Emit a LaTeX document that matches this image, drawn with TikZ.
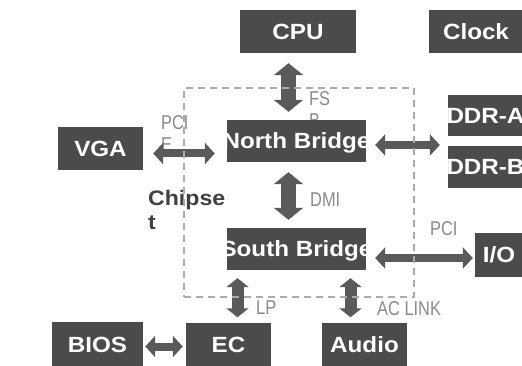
\documentclass[tikz,border=0pt]{standalone}
\usepackage{fontspec}
\setmainfont{Liberation Sans}
\newfontfamily\boxfont[FakeStretch=1.1]{Liberation Sans}
\newfontfamily\lblfont[FakeStretch=0.82]{Liberation Sans}
\usetikzlibrary{arrows.meta,positioning,calc}
\definecolor{boxgray}{HTML}{4B4B4B}
\definecolor{arrgray}{HTML}{5A5A5A}
\definecolor{lblgray}{HTML}{8A8A8A}
\definecolor{dashgray}{HTML}{ABABAB}
\tikzset{
  block/.style={fill=boxgray,text=white,inner sep=0pt,minimum height=43pt,
    font=\boxfont\bfseries\fontsize{22}{24}\selectfont,text height=15.5pt,text depth=0pt},
  busname/.style={text=lblgray,inner sep=0pt,align=left,
    font=\lblfont\fontsize{20}{22}\selectfont},
  hbus/.style={draw=arrgray,line width=8pt,
    {Triangle[width=21pt,length=10pt]}-{Triangle[width=21pt,length=10pt]}},
  vbus/.style={draw=arrgray,line width=15pt,
    {Triangle[width=29pt,length=12pt]}-{Triangle[width=29pt,length=12pt]}},
  lowbus/.style={draw=arrgray,line width=12pt,shorten <=8pt,shorten >=5pt,
    {Triangle[width=22pt,length=9pt]}-{Triangle[width=22pt,length=9pt]}}
}

\begin{document}
\begin{tikzpicture}[x=1pt,y=-1pt,
  chipframe/.style={draw=dashgray,line width=1.3pt,dash pattern=on 7pt off 5pt,
    inner sep=0pt},
  chiplabel/.style={text=black!75,inner sep=0pt,align=left,
    font=\boxfont\bfseries\fontsize{21}{24}\selectfont}
]
  \useasboundingbox (0,0) rectangle (522,366);
  \node[busname,anchor=north west] (fsb) at (309,91) {FS\\B};
  \node[busname,anchor=north west] (pcie) at (161,115) {PCI\\E};
  \node[busname,anchor=west] (dmi) at (310,200) {DMI};
  \node[busname,anchor=north west] (pci) at (430,221) {PCI};
  \node[busname,anchor=north west] (lpc) at (256,301) {LP};
  \node[busname,anchor=north west] (aclink) at (377,301) {AC LINK};
  \node[chiplabel,anchor=north west] (chip) at (148,190) {Chipse\\t};
  \node[block,minimum width=116pt] (cpu) at (298,31.5) {\makebox[0pt]{CPU}};
  \node[block,minimum width=94pt] (clock) at (476,31.5) {\makebox[0pt]{Clock}};
  \node[block,minimum width=75pt,minimum height=41pt] (ddra) at (485.5,115.5) {\makebox[0pt]{DDR-A}};
  \node[block,minimum width=75pt,minimum height=42pt] (ddrb) at (485.5,167) {\makebox[0pt]{DDR-B}};
  \node[block,minimum width=85pt] (vga) at (100.5,148.5) {\makebox[0pt]{VGA}};
  \node[block,minimum width=139pt,minimum height=42pt] (nb) at (296.5,141) {\makebox[0pt]{North Bridge}};
  \node[block,minimum width=139pt,minimum height=42pt] (sb) at (296.5,249) {\makebox[0pt]{South Bridge}};
  \node[block,minimum width=48pt,minimum height=44pt] (io) at (499,255) {\makebox[0pt]{I/O}};
  \node[block,minimum width=91pt,minimum height=45pt] (bios) at (97.5,344.5) {\makebox[0pt]{BIOS}};
  \node[block,minimum width=85pt,minimum height=45pt] (ec) at (228.5,345) {\makebox[0pt]{EC}};
  \node[block,minimum width=85pt,minimum height=45pt] (audio) at (364.5,345) {\makebox[0pt]{Audio}};
  \draw[vbus,shorten <=10pt,shorten >=8pt] ([xshift=-8pt]nb.north |- cpu.south) -- ([xshift=-8pt]nb.north);
  \draw[vbus,shorten <=10pt,shorten >=8pt] ([xshift=-8pt]nb.south) -- ([xshift=-8pt]sb.north);
  \draw[hbus,shorten <=10pt,shorten >=12pt] ([yshift=-5pt]vga.east) -- ([yshift=-5pt]vga.east -| nb.west);
  \draw[hbus,shorten <=9pt,shorten >=8pt] ([yshift=-4pt]nb.east) -- ([yshift=-4pt]nb.east -| ddra.west);
  \draw[hbus,shorten <=9pt,shorten >=2pt] ([yshift=-3pt]io.west -| sb.east) -- ([yshift=-3pt]io.west);
  \draw[hbus,shorten <=2pt,shorten >=3pt] ([yshift=-2pt]bios.east) -- ([yshift=-2pt]bios.east -| ec.west);
  \draw[lowbus] ([xshift=9pt]ec.north |- sb.south) -- ([xshift=9pt]ec.north);
  \draw[lowbus] ([xshift=-14pt]audio.north |- sb.south) -- ([xshift=-14pt]audio.north);
  \node[chipframe,minimum width=230pt,minimum height=209pt] (chipset) at (299,192.5) {};
\end{tikzpicture}
\end{document}
